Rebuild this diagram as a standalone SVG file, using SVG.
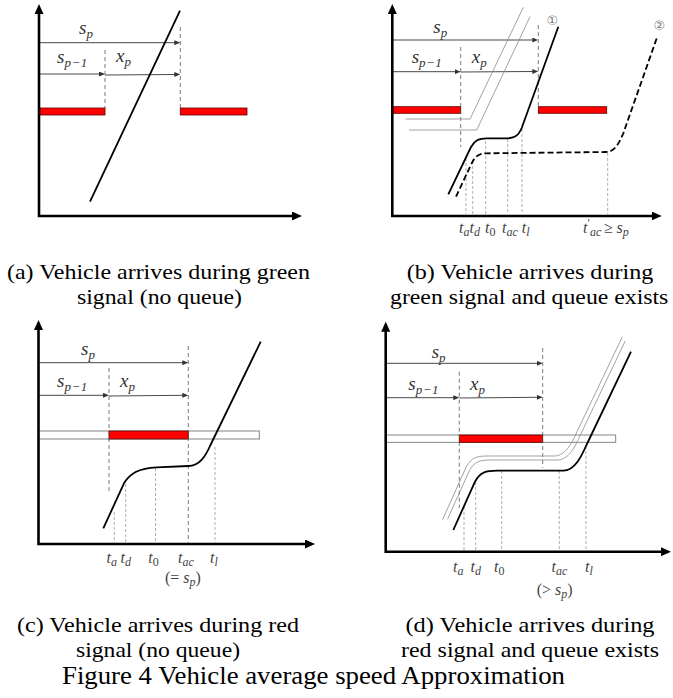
<svg xmlns="http://www.w3.org/2000/svg" width="673" height="698" viewBox="0 0 673 698">
<defs>
<style>
.axis{fill:none;stroke:#000;stroke-width:2.6}
.arr{fill:none;stroke:#333;stroke-width:0.9}
.vd{fill:none;stroke:#555;stroke-width:0.8;stroke-dasharray:4 3}
.tl{fill:none;stroke:#9a9a9a;stroke-width:0.8;stroke-dasharray:3 2}
.red{fill:#ff0000;stroke:#5a0000;stroke-width:0.8}
.bar{fill:#fff;stroke:#777;stroke-width:0.9}
.curve{fill:none;stroke:#000;stroke-width:1.8;stroke-linejoin:round}
.dcurve{fill:none;stroke:#000;stroke-width:1.8;stroke-dasharray:6 3}
.gray{fill:none;stroke:#8a8a8a;stroke-width:0.8}
.m{font-family:'Liberation Serif','Times New Roman',Times,serif;font-style:italic;font-size:19px;fill:#333}
.m .sub{font-size:13px}
.t{font-family:'Liberation Serif','Times New Roman',Times,serif;font-style:italic;font-size:16px;fill:#444}
.t .sub{font-size:12px}
.up{font-style:normal}
.cap{font-family:'Liberation Serif','Times New Roman',Times,serif;font-size:21.5px;fill:#000;text-anchor:middle}
.title{font-size:26px}
.circ{font-family:'DejaVu Sans','Noto Sans CJK JP',sans-serif;font-size:13px;fill:#777;text-anchor:middle}
</style>
<marker id="ah" viewBox="0 0 10 9" markerWidth="10" markerHeight="9" refX="2" refY="4.5" orient="auto-start-reverse" markerUnits="userSpaceOnUse">
<path d="M0,0 L10,4.5 L0,9 z" fill="#000"/>
</marker>
<marker id="sa" viewBox="0 0 6 5" markerWidth="6" markerHeight="5" refX="1" refY="2.5" orient="auto" markerUnits="userSpaceOnUse">
<path d="M0,0 L6,2.5 L0,5 z" fill="#333"/>
</marker>
</defs>
<rect width="673" height="698" fill="#fff"/>

<!-- Panel (a) -->
<g id="panel-a">
<rect class="red" x="39" y="108" width="66" height="7"/>
<rect class="red" x="180.3" y="108" width="66.7" height="7"/>
<g id="a-connectors">
<line class="vd" x1="180.3" y1="27" x2="180.3" y2="108"/>
<line class="vd" x1="105" y1="50" x2="105" y2="108"/>
<path class="arr" d="M39,42.7 L175.3,42.7" marker-end="url(#sa)"/>
<path class="arr" d="M39,74 L100,74" marker-end="url(#sa)"/>
<path class="arr" d="M105,75 L175.3,74.5" marker-end="url(#sa)"/>
<path class="curve" d="M90,201.7 L180,10.7"/>
</g>
<path class="axis" d="M39,12 L39,216 L294,216" marker-start="url(#ah)" marker-end="url(#ah)"/>
<text class="m" x="79" y="34">s<tspan class="sub" dy="4">p</tspan></text>
<text class="m" x="57" y="63">s<tspan class="sub" dy="4" letter-spacing="0.5">p−1</tspan></text>
<text class="m" x="116" y="62">x<tspan class="sub" dy="4">p</tspan></text>
<text class="cap" x="158.5" y="279" textLength="303" lengthAdjust="spacingAndGlyphs">(a) Vehicle arrives during green</text>
<text class="cap" x="159.5" y="303.5" textLength="165" lengthAdjust="spacingAndGlyphs">signal (no queue)</text>
</g>

<!-- Panel (b) -->
<g id="panel-b">
<rect class="red" x="392.3" y="106.7" width="68.4" height="6.6"/>
<rect class="red" x="538.3" y="106.7" width="68.4" height="6.6"/>
<g id="b-connectors">
<line class="vd" x1="538.3" y1="25" x2="538.3" y2="107"/>
<line class="vd" x1="460.7" y1="47" x2="460.7" y2="147"/>
<path class="arr" d="M392.3,40 L533.3,40" marker-end="url(#sa)"/>
<path class="arr" d="M392.3,71.7 L455.7,71.7" marker-end="url(#sa)"/>
<path class="arr" d="M460.7,72 L533.3,71.5" marker-end="url(#sa)"/>
<polyline class="gray" points="405.7,119 470,119 523.3,7.3"/>
<polyline class="gray" points="409,130 476.7,130 530,16.7"/>
<line class="tl" x1="466" y1="158" x2="466" y2="214"/>
<line class="tl" x1="472.7" y1="161" x2="472.7" y2="214"/>
<line class="tl" x1="485.7" y1="141" x2="485.7" y2="214"/>
<line class="tl" x1="507.7" y1="139" x2="507.7" y2="214"/>
<line class="tl" x1="522" y1="129" x2="522" y2="214"/>
<line class="tl" x1="607.7" y1="153" x2="607.7" y2="214"/>
<path class="curve" d="M448.3,194.3 L471,147 C475,140 479,138.3 487,138.3 L506,138.3 C513,138.3 518,137 521.7,128 L558.3,26.7"/>
<path class="dcurve" d="M456,196.7 L471.7,163.3 C475,156 479,153.5 487,153.3 L606,152 C615,152 619,143 623.3,133.3 L656.7,38.3"/>
</g>
<path class="axis" d="M392.3,12 L392.3,216 L653.7,216" marker-start="url(#ah)" marker-end="url(#ah)"/>
<text class="circ" x="552.3" y="25">①</text>
<text class="circ" x="659.3" y="30">②</text>
<text class="m" x="433.3" y="33">s<tspan class="sub" dy="4">p</tspan></text>
<text class="m" x="411.7" y="63">s<tspan class="sub" dy="4" letter-spacing="0.5">p−1</tspan></text>
<text class="m" x="471.7" y="63">x<tspan class="sub" dy="4">p</tspan></text>
<text class="t" x="459" y="233">t<tspan class="sub" dy="3">a</tspan></text>
<text class="t" x="469.5" y="233">t<tspan class="sub" dy="3">d</tspan></text>
<text class="t" x="485" y="233">t<tspan class="sub up" dy="3">0</tspan></text>
<text class="t" x="502" y="233">t<tspan class="sub" dy="3">ac</tspan></text>
<text class="t" x="521.7" y="233">t<tspan class="sub" dy="3">l</tspan></text>
<text class="t" x="583" y="233">t<tspan class="sub up" dy="-6">′</tspan><tspan class="sub" dy="9">ac</tspan><tspan class="up" x="604" dy="-3">≥</tspan><tspan x="616.5">s</tspan><tspan class="sub" dy="3">p</tspan></text>
<text class="cap" x="530" y="278.5" textLength="246.6" lengthAdjust="spacingAndGlyphs">(b) Vehicle arrives during</text>
<text class="cap" x="529.2" y="303.5" textLength="278.3" lengthAdjust="spacingAndGlyphs">green signal and queue exists</text>
</g>

<!-- Panel (c) -->
<g id="panel-c">
<rect class="bar" x="38.5" y="431" width="220.8" height="8"/>
<rect class="red" x="109" y="431" width="79.3" height="8"/>
<g id="c-connectors">
<line class="vd" x1="188.3" y1="346" x2="188.3" y2="544"/>
<line class="vd" x1="109" y1="368" x2="109" y2="492"/>
<path class="arr" d="M38.5,362.7 L183.3,362.7" marker-end="url(#sa)"/>
<path class="arr" d="M38.5,395.3 L104,395.3" marker-end="url(#sa)"/>
<path class="arr" d="M109,396 L183.3,395.3" marker-end="url(#sa)"/>
<line class="tl" x1="114.3" y1="512" x2="114.3" y2="543"/>
<line class="tl" x1="125.7" y1="484" x2="125.7" y2="543"/>
<line class="tl" x1="155.5" y1="468" x2="155.5" y2="543"/>
<line class="tl" x1="215" y1="447" x2="215" y2="543"/>
<path class="curve" d="M103.3,528.3 L124.3,482.7 C130,474 138,468 156.7,467.3 L188.3,466 C200,466 206,455 210,446 L260.7,341.7"/>
</g>
<path class="axis" d="M38.5,328 L38.5,544 L307,544" marker-start="url(#ah)" marker-end="url(#ah)"/>
<text class="m" x="81" y="355">s<tspan class="sub" dy="4">p</tspan></text>
<text class="m" x="57" y="387">s<tspan class="sub" dy="4" letter-spacing="0.5">p−1</tspan></text>
<text class="m" x="120" y="387">x<tspan class="sub" dy="4">p</tspan></text>
<text class="t" x="106.5" y="563">t<tspan class="sub" dy="3">a</tspan></text>
<text class="t" x="120.5" y="563">t<tspan class="sub" dy="3">d</tspan></text>
<text class="t" x="148.3" y="563">t<tspan class="sub up" dy="3">0</tspan></text>
<text class="t" x="178" y="563">t<tspan class="sub" dy="3">ac</tspan></text>
<text class="t" x="210" y="563">t<tspan class="sub" dy="3">l</tspan></text>
<text class="t" x="165" y="583"><tspan class="up">(=</tspan> s<tspan class="sub" dy="3">p</tspan><tspan class="up" dy="-3">)</tspan></text>
<text class="cap" x="158" y="631.5" textLength="282" lengthAdjust="spacingAndGlyphs">(c) Vehicle arrives during red</text>
<text class="cap" x="158" y="657" textLength="164" lengthAdjust="spacingAndGlyphs">signal (no queue)</text>
</g>

<!-- Panel (d) -->
<g id="panel-d">
<rect class="bar" x="385.7" y="435" width="230" height="7.3"/>
<rect class="red" x="459.3" y="435" width="83.4" height="7.3"/>
<g id="d-connectors">
<line class="vd" x1="542.7" y1="348" x2="542.7" y2="468"/>
<line class="vd" x1="459.3" y1="371.7" x2="459.3" y2="508"/>
<path class="arr" d="M385.7,363.3 L537.7,363.3" marker-end="url(#sa)"/>
<path class="arr" d="M385.7,397.7 L454.3,397.7" marker-end="url(#sa)"/>
<path class="arr" d="M459.3,398 L537.7,397.3" marker-end="url(#sa)"/>
<line class="tl" x1="464" y1="507" x2="464" y2="551"/>
<line class="tl" x1="475.7" y1="482" x2="475.7" y2="551"/>
<line class="tl" x1="501.7" y1="471" x2="501.7" y2="551"/>
<line class="tl" x1="559.3" y1="471" x2="559.3" y2="551"/>
<line class="tl" x1="586" y1="446" x2="586" y2="551"/>
<path class="gray" transform="translate(-8.8,-14.7)" d="M451.3,534.5 L475,481.7 C480,472 486,470.7 497,470.7 L563.3,470.7 C575,470.7 582,455 586,446 L631,351.7"/>
<path class="gray" transform="translate(-5.8,-10.7)" d="M453.3,530 L475,481.7 C480,472 486,470.7 497,470.7 L563.3,470.7 C575,470.7 582,455 586,446 L631,351.7"/>
<path class="curve" d="M453.3,530 L475,481.7 C480,472 486,470.7 497,470.7 L563.3,470.7 C575,470.7 582,455 586,446 L631,351.7"/>
</g>
<path class="axis" d="M385.7,329.7 L385.7,551.7 L663,551.7" marker-start="url(#ah)" marker-end="url(#ah)"/>
<text class="m" x="431.7" y="358">s<tspan class="sub" dy="4">p</tspan></text>
<text class="m" x="408.3" y="390">s<tspan class="sub" dy="4" letter-spacing="0.5">p−1</tspan></text>
<text class="m" x="470" y="390">x<tspan class="sub" dy="4">p</tspan></text>
<text class="t" x="453" y="571.5">t<tspan class="sub" dy="3">a</tspan></text>
<text class="t" x="470.5" y="571.5">t<tspan class="sub" dy="3">d</tspan></text>
<text class="t" x="494" y="571.5">t<tspan class="sub up" dy="3">0</tspan></text>
<text class="t" x="551.5" y="571.5">t<tspan class="sub" dy="3">ac</tspan></text>
<text class="t" x="585" y="571.5">t<tspan class="sub" dy="3">l</tspan></text>
<text class="t" x="536.7" y="595"><tspan class="up">(&gt;</tspan> s<tspan class="sub" dy="3">p</tspan><tspan class="up" dy="-3">)</tspan></text>
<text class="cap" x="530" y="631.5" textLength="249" lengthAdjust="spacingAndGlyphs">(d) Vehicle arrives during</text>
<text class="cap" x="530" y="657" textLength="258" lengthAdjust="spacingAndGlyphs">red signal and queue exists</text>
</g>

<text id="figure-title" class="cap title" x="313.5" y="684" textLength="503" lengthAdjust="spacingAndGlyphs">Figure 4 Vehicle average speed Approximation</text>
</svg>
